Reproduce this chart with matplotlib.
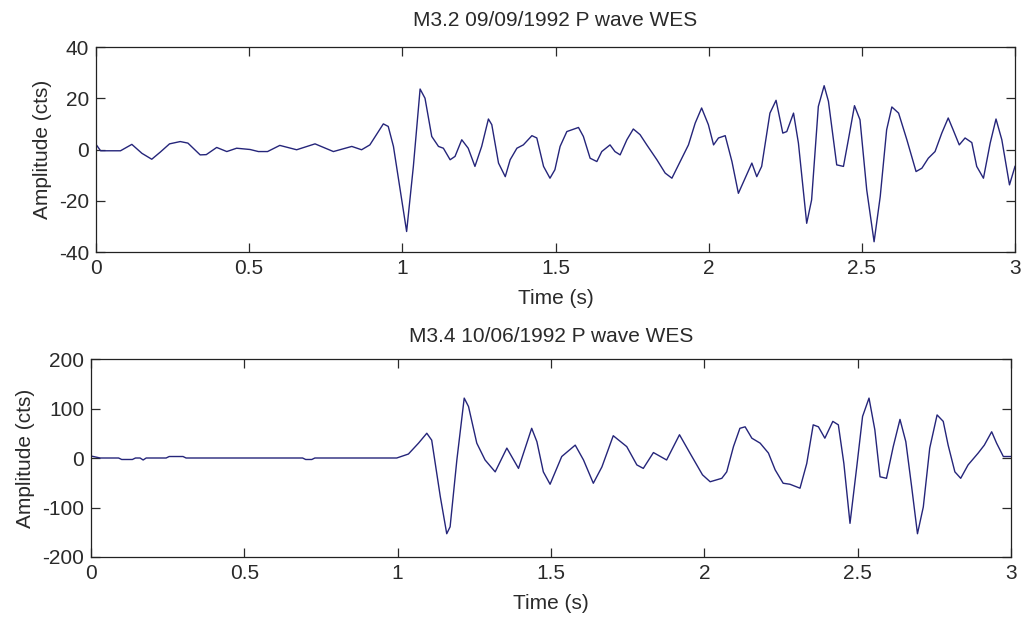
import matplotlib
matplotlib.use("Agg")
import matplotlib.pyplot as plt

plt.rcParams['font.family'] = ['Liberation Sans', 'DejaVu Sans']
plt.rcParams['font.size'] = 15
plt.rcParams['axes.unicode_minus'] = False

# M3.2 event, 09/09/1992
t_a = [0.0, 0.015, 0.08, 0.117, 0.15, 0.182, 0.21, 0.24, 0.275, 0.30,
       0.34, 0.36, 0.394, 0.427, 0.459, 0.503, 0.53, 0.56, 0.60, 0.655,
       0.715, 0.775, 0.835, 0.867, 0.894, 0.938, 0.954, 0.971, 1.014, 1.036,
       1.058, 1.074, 1.096, 1.118, 1.134, 1.156, 1.172, 1.194, 1.215, 1.237,
       1.259, 1.281, 1.292, 1.314, 1.336, 1.352, 1.374, 1.395, 1.423, 1.439,
       1.461, 1.482, 1.498, 1.515, 1.537, 1.575, 1.591, 1.613, 1.635, 1.651,
       1.678, 1.694, 1.711, 1.733, 1.754, 1.776, 1.798, 1.831, 1.858, 1.880,
       1.907, 1.934, 1.956, 1.977, 1.999, 2.016, 2.032, 2.054, 2.076, 2.097,
       2.119, 2.141, 2.157, 2.173, 2.200, 2.220, 2.242, 2.255, 2.277, 2.293,
       2.320, 2.336, 2.358, 2.377, 2.391, 2.418, 2.440, 2.456, 2.476, 2.494,
       2.516, 2.540, 2.560, 2.581, 2.598, 2.620, 2.647, 2.677, 2.696, 2.717,
       2.739, 2.761, 2.782, 2.798, 2.818, 2.837, 2.859, 2.875, 2.897, 2.919,
       2.938, 2.957, 2.982, 3.0]
amp_a = [2.0, -0.5, -0.5, 2.0, -1.5, -3.8, -1.0, 2.2, 3.1, 2.5,
         -2.1, -2.0, 0.8, -0.8, 0.5, 0.0, -0.8, -0.8, 1.6, -0.1,
         2.2, -0.8, 1.2, -0.1, 1.8, 10.0, 9.0, 1.2, -32.0, -6.6,
         23.6, 20.0, 5.1, 1.2, 0.5, -4.0, -2.7, 3.8, 0.5, -6.6,
         1.2, 11.9, 9.7, -5.3, -10.6, -4.0, 0.5, 1.8, 5.4, 4.5,
         -6.6, -11.2, -7.9, 1.2, 7.0, 8.6, 5.1, -3.4, -4.7, -0.8,
         1.8, -0.8, -2.1, 3.8, 8.0, 5.8, 1.8, -4.0, -9.2, -11.2,
         -4.7, 1.8, 10.3, 16.2, 9.7, 1.8, 4.5, 5.4, -4.7, -17.1,
         -11.2, -5.3, -10.6, -6.6, 14.2, 19.2, 6.4, 7.0, 14.2, 2.5,
         -28.8, -19.7, 16.8, 24.9, 18.8, -6.0, -6.6, 3.8, 17.1, 11.6,
         -15.8, -36.0, -18.4, 7.7, 16.6, 14.2, 3.8, -8.6, -7.3, -3.4,
         -0.8, 6.4, 12.3, 7.7, 1.8, 4.5, 2.7, -6.6, -11.2, 2.5,
         11.9, 3.8, -13.8, -6.6]

# M3.4 event, 10/06/1992
t_b = [0.0, 0.03, 0.09, 0.10, 0.135, 0.145, 0.16, 0.17, 0.18, 0.245,
       0.255, 0.30, 0.31, 0.69, 0.70, 0.72, 0.73, 0.997, 1.035, 1.068,
       1.095, 1.111, 1.139, 1.160, 1.171, 1.193, 1.217, 1.231, 1.258, 1.285,
       1.318, 1.356, 1.394, 1.437, 1.454, 1.475, 1.497, 1.535, 1.579, 1.606,
       1.638, 1.666, 1.703, 1.747, 1.780, 1.801, 1.834, 1.877, 1.919, 1.953,
       1.994, 2.019, 2.057, 2.073, 2.095, 2.116, 2.133, 2.155, 2.182, 2.209,
       2.231, 2.257, 2.279, 2.312, 2.334, 2.355, 2.372, 2.393, 2.419, 2.437,
       2.455, 2.475, 2.497, 2.516, 2.537, 2.556, 2.573, 2.594, 2.616, 2.638,
       2.657, 2.676, 2.695, 2.714, 2.735, 2.759, 2.779, 2.795, 2.817, 2.836,
       2.860, 2.893, 2.913, 2.937, 2.953, 2.975, 3.0]
amp_b = [4, 0, 0, -3, -3, 0, 0, -4, 0, 0,
         3, 3, 0, 0, -3, -3, 0, 0, 8, 30,
         50, 36, -78, -153, -139, -4, 121, 104, 30, -4,
         -28, 20, -21, 60, 33, -28, -53, 3, 26, -4,
         -51, -18, 45, 23, -14, -21, 11, -4, 47, 10,
         -34, -48, -41, -28, 23, 60, 63, 40, 30, 10,
         -24, -51, -53, -61, -11, 67, 63, 40, 74, 67,
         -11, -132, -18, 84, 121, 57, -38, -41, 23, 78,
         33, -58, -153, -99, 20, 87, 74, 26, -28, -41,
         -14, 10, 26, 53, 30, 3, 3]

titles = ["M3.2 09/09/1992 P wave WES", "M3.4 10/06/1992 P wave WES"]
x_ticks = [0, 0.5, 1, 1.5, 2, 2.5, 3]
x_labels = ["0", "0.5", "1", "1.5", "2", "2.5", "3"]
y_ticks_a = [-40, -20, 0, 20, 40]
y_ticks_b = [-200, -100, 0, 100, 200]

W, H = 1022, 620
fig = plt.figure(figsize=(W / 100, H / 100), dpi=100)
fig.patch.set_facecolor('white')


def px_axes(left, top, right, bottom):
    return fig.add_axes([left / W, 1 - bottom / H, (right - left) / W, (bottom - top) / H])


ax1 = px_axes(96, 47, 1015, 252)
ax2 = px_axes(91, 359, 1011, 557)

panels = [
    (ax1, t_a, amp_a, y_ticks_a, titles[0], 15),
    (ax2, t_b, amp_b, y_ticks_b, titles[1], 12),
]
for ax, t, a, yt, title, tpad in panels:
    ax.plot(t, a, color='#25257a', lw=1.0)
    ax.set_xlim(0, 3)
    ax.set_ylim(yt[0], yt[-1])
    ax.set_xticks(x_ticks)
    ax.set_xticklabels(x_labels)
    ax.set_yticks(yt)
    ax.tick_params(direction='in', length=6.5, width=0.9, top=True, right=True,
                   colors='#2a2a2a', labelsize=15, pad=5)
    for s in ax.spines.values():
        s.set_linewidth(0.9)
        s.set_color('#222222')
    ax.set_xlabel("Time (s)", fontsize=15, color='#2a2a2a', labelpad=8)
    ax.set_ylabel("Amplitude (cts)", fontsize=15, color='#2a2a2a', labelpad=5)
    ax.set_title(title, fontsize=15, color='#2a2a2a', pad=tpad)

fig.savefig("out.png", dpi=100, facecolor='white')
